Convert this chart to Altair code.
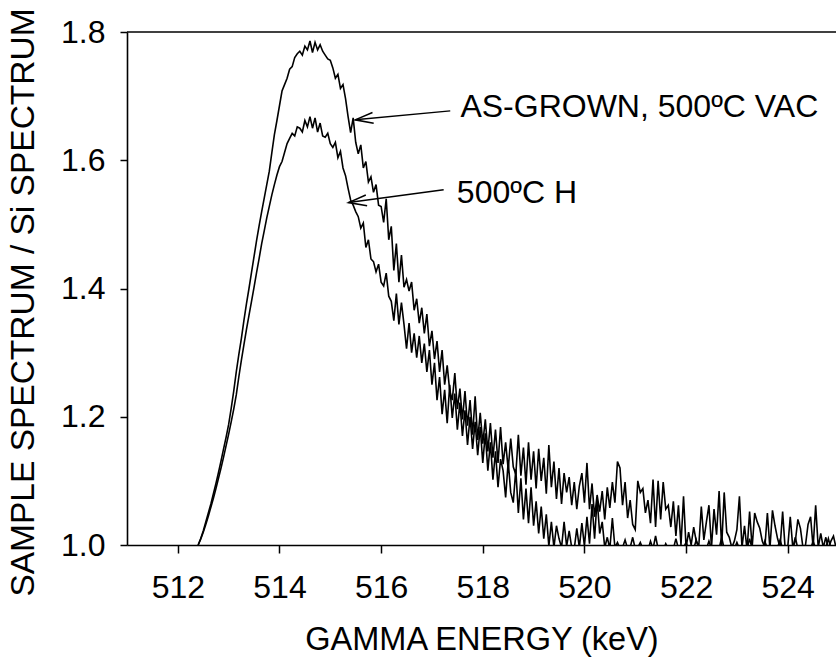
import altair as alt
import pandas as pd

# channel calibration of the spectra (keV)
E_START = 512.40
E_STEP = 0.05

# AS-GROWN, 500ºC VAC  (upper curve), one value per channel
as_grown = [
    1.000, 1.010, 1.022, 1.036, 1.050, 1.064, 1.080, 1.096, 1.113, 1.131,
    1.150, 1.168, 1.188, 1.213, 1.240, 1.270, 1.297, 1.322, 1.350, 1.376,
    1.400, 1.425, 1.450, 1.475, 1.498, 1.520, 1.541, 1.562, 1.583, 1.612,
    1.640, 1.662, 1.685, 1.708, 1.718, 1.728, 1.742, 1.746, 1.760, 1.766,
    1.770, 1.764, 1.778, 1.772, 1.786, 1.768, 1.784, 1.772, 1.780, 1.770,
    1.764, 1.758, 1.756, 1.744, 1.728, 1.734, 1.712, 1.718, 1.696, 1.668,
    1.643, 1.666, 1.628, 1.610, 1.624, 1.588, 1.598, 1.566, 1.574, 1.550,
    1.562, 1.530, 1.528, 1.503, 1.540, 1.476, 1.497, 1.428, 1.470, 1.410,
    1.452, 1.402, 1.414, 1.396, 1.410, 1.366, 1.384, 1.346, 1.370, 1.330,
    1.360, 1.310, 1.334, 1.290, 1.318, 1.270, 1.304, 1.250, 1.280, 1.240,
    1.226, 1.268, 1.212, 1.244, 1.196, 1.240, 1.186, 1.226, 1.172, 1.232,
    1.164, 1.206, 1.158, 1.196, 1.146, 1.190, 1.136, 1.180, 1.128, 1.184,
    1.126, 1.160, 1.118, 1.166, 1.122, 1.110, 1.172, 1.108, 1.152, 1.094,
    1.160, 1.102, 1.146, 1.088, 1.150, 1.100, 1.136, 1.080, 1.156, 1.090,
    1.130, 1.072, 1.120, 1.064, 1.112, 1.082, 1.106, 1.062, 1.098, 1.056,
    1.092, 1.112, 1.066, 1.128, 1.056, 1.096, 1.044, 1.078, 1.052, 1.084,
    1.040, 1.090, 1.058, 1.098, 1.066, 1.130, 1.120, 1.062, 1.098, 1.042,
    1.070, 1.032, 1.024, 1.100, 1.082, 1.088, 1.050, 1.070, 1.034, 1.102,
    1.028, 1.100, 1.040, 1.098, 1.056, 1.062, 1.028, 1.068, 1.014, 1.062,
    1.000, 1.076, 0.996, 1.020, 1.000, 1.028, 1.006, 0.998, 1.060, 1.008,
    1.036, 1.062, 0.996, 1.056, 1.016, 1.084, 0.996, 1.082, 1.020, 1.012,
    0.996, 1.006, 1.024, 1.076, 0.996, 1.030, 0.992, 1.052, 0.996, 1.050,
    1.036, 1.026, 1.006, 0.996, 1.050, 0.994, 1.054, 1.030, 1.010, 0.996,
    1.052, 0.994, 0.996, 1.044, 0.996, 1.006, 1.040, 1.026, 0.996, 1.000,
    1.032, 1.044, 0.996, 1.062, 0.996, 1.018, 0.996, 1.012, 0.994, 1.006,
    1.014, 0.996, 1.006,
]

# 500ºC H  (lower curve), one value per channel
h500 = [
    1.000, 1.009, 1.020, 1.032, 1.045, 1.059, 1.073, 1.088, 1.104, 1.120,
    1.137, 1.155, 1.173, 1.192, 1.212, 1.234, 1.262, 1.288, 1.312, 1.336,
    1.358, 1.380, 1.402, 1.425, 1.447, 1.470, 1.490, 1.510, 1.528, 1.546,
    1.562, 1.577, 1.590, 1.598, 1.612, 1.626, 1.634, 1.642, 1.638, 1.652,
    1.650, 1.644, 1.662, 1.652, 1.668, 1.650, 1.666, 1.644, 1.658, 1.638,
    1.636, 1.642, 1.626, 1.620, 1.628, 1.604, 1.614, 1.588, 1.576, 1.556,
    1.538, 1.530, 1.520, 1.512, 1.494, 1.502, 1.464, 1.476, 1.446, 1.442,
    1.426, 1.438, 1.410, 1.404, 1.424, 1.388, 1.380, 1.350, 1.392, 1.344,
    1.378, 1.344, 1.306, 1.346, 1.300, 1.330, 1.292, 1.326, 1.284, 1.314,
    1.270, 1.304, 1.250, 1.284, 1.226, 1.262, 1.204, 1.242, 1.190, 1.250,
    1.198, 1.236, 1.180, 1.222, 1.170, 1.210, 1.156, 1.200, 1.150, 1.192,
    1.140, 1.184, 1.128, 1.174, 1.116, 1.160, 1.102, 1.146, 1.090, 1.134,
    1.116, 1.074, 1.130, 1.082, 1.066, 1.118, 1.050, 1.104, 1.040, 1.088,
    1.034, 1.090, 1.030, 1.068, 1.018, 1.060, 1.010, 1.048, 0.998, 1.036,
    0.996, 1.030, 1.010, 0.996, 1.036, 0.998, 1.022, 0.996, 0.994, 1.026,
    0.996, 1.034, 0.998, 1.044, 1.002, 1.064, 1.010, 1.072, 1.018, 1.036,
    0.996, 1.012, 0.994, 1.042, 0.996, 1.004, 0.994, 0.996, 1.008, 0.994,
    0.996, 1.012, 0.994, 0.996, 1.004, 0.994, 0.996, 0.992, 1.006, 0.994,
    1.014, 0.994, 0.996, 0.992, 1.002, 0.994, 0.996, 0.994, 1.010, 0.994,
    0.992, 0.996, 1.004, 0.994, 0.996, 0.994, 1.008, 0.994, 0.996, 0.992,
    0.994, 1.006, 0.994, 0.996, 0.992, 0.994, 1.012, 0.994, 0.996, 0.994,
    0.996, 0.994, 1.004, 0.994, 0.996, 0.992, 0.994, 1.010, 0.994, 0.996,
    0.994, 0.996, 0.992, 1.006, 0.994, 0.996, 0.994, 0.992, 0.996, 1.008,
    0.994, 0.996, 0.994, 0.992, 0.996, 1.012, 0.994, 0.996, 0.994, 0.992,
    0.996, 0.994, 1.006, 0.994, 0.996, 0.992, 0.994, 0.996, 1.010, 0.994,
    0.996, 0.994, 0.996,
]

x_ticks = [512, 514, 516, 518, 520, 522, 524]
y_ticks = [1.0, 1.2, 1.4, 1.6, 1.8]
x_domain = [511, 524.95]
y_domain = [1.0, 1.8]

# annotations (data units)
label_text = ["AS-GROWN, 500ºC VAC", "500ºC H"]
label_x = [517.56, 517.49]
label_y = [1.667, 1.534]
arrow_tail_x = [517.36, 517.23]
arrow_tail_y = [1.677, 1.554]
arrow_tip_x = [515.49, 515.36]
arrow_tip_y = [1.663, 1.534]
arrow_angle = [173.6, 173.0]

FONT = "Liberation Sans"
FS_TICK = 32
FS_TEXT = 32
FS_XTITLE = 32.5
FS_YTITLE = 33.5

rows = []
for name, vals in (("AS-GROWN, 500ºC VAC", as_grown), ("500ºC H", h500)):
    for i, v in enumerate(vals):
        rows.append({"energy": round(E_START + E_STEP * i, 2), "ratio": v, "series": name})
spec = pd.DataFrame(rows)

ann = pd.DataFrame({
    "text": label_text, "lx": label_x, "ly": label_y,
    "tx": arrow_tail_x, "ty": arrow_tail_y,
    "hx": arrow_tip_x, "hy": arrow_tip_y, "angle": arrow_angle,
})

xscale = alt.Scale(domain=x_domain, nice=False, zero=False)
yscale = alt.Scale(domain=y_domain, nice=False, zero=False)

x_axis = alt.Axis(
    values=x_ticks, format="d", title="GAMMA ENERGY (keV)", grid=False,
    tickSize=8, tickWidth=1.5, tickColor="black", domainColor="black", domainWidth=1.6,
    labelFont=FONT, labelFontSize=FS_TICK, labelColor="black", labelBaseline="alphabetic",
    labelPadding=44, labelOverlap=False, labelFlush=False,
    titleFont=FONT, titleFontSize=FS_XTITLE, titleFontWeight="normal", titleColor="black",
    titleBaseline="alphabetic", titleY=104,
)
y_axis = alt.Axis(
    values=y_ticks, format=".1f", title="SAMPLE SPECTRUM / Si SPECTRUM", grid=False,
    tickSize=7, tickWidth=1.5, tickColor="black", domainColor="black", domainWidth=1.6,
    labelFont=FONT, labelFontSize=FS_TICK, labelColor="black", labelPadding=15,
    labelOverlap=False, labelFlush=False,
    titleFont=FONT, titleFontSize=FS_YTITLE, titleFontWeight="normal", titleColor="black",
    titleAngle=270, titleBaseline="alphabetic", titleAlign="center", titleX=-94, titleY=270,
)

lines = alt.Chart(spec).mark_line(color="black", strokeWidth=1.6, clip=True).encode(
    x=alt.X("energy:Q", scale=xscale, axis=x_axis),
    y=alt.Y("ratio:Q", scale=yscale, axis=y_axis),
    detail="series:N",
)

top_rule = alt.Chart(pd.DataFrame({"y": [y_domain[1]]})).mark_rule(
    color="black", strokeWidth=1.6
).encode(y=alt.Y("y:Q", scale=yscale))

arrow_lines = alt.Chart(ann).mark_rule(color="black", strokeWidth=1.5).encode(
    x=alt.X("tx:Q", scale=xscale), y=alt.Y("ty:Q", scale=yscale),
    x2="hx:Q", y2="hy:Q",
)

arrow_heads = alt.Chart(ann).mark_point(
    shape="M -1 -0.3 L 0 0 L -1 0.3", filled=False, color="black",
    strokeWidth=1.5, size=1296, opacity=1,
).encode(
    x=alt.X("hx:Q", scale=xscale), y=alt.Y("hy:Q", scale=yscale),
    angle=alt.Angle("angle:Q", scale=None),
)

labels = alt.Chart(ann).mark_text(
    align="left", baseline="alphabetic", font=FONT, fontSize=FS_TEXT, color="black"
).encode(
    x=alt.X("lx:Q", scale=xscale), y=alt.Y("ly:Q", scale=yscale), text="text:N",
)

chart = alt.layer(lines, top_rule, arrow_lines, arrow_heads, labels).properties(
    width=709, height=513,
    autosize=alt.AutoSizeParams(type="none"),
    padding={"left": 127, "top": 32, "right": 0, "bottom": 117},
    background="white",
).configure_view(stroke=None)

chart.save("out.html", embed_options={"renderer": "svg", "actions": False})
